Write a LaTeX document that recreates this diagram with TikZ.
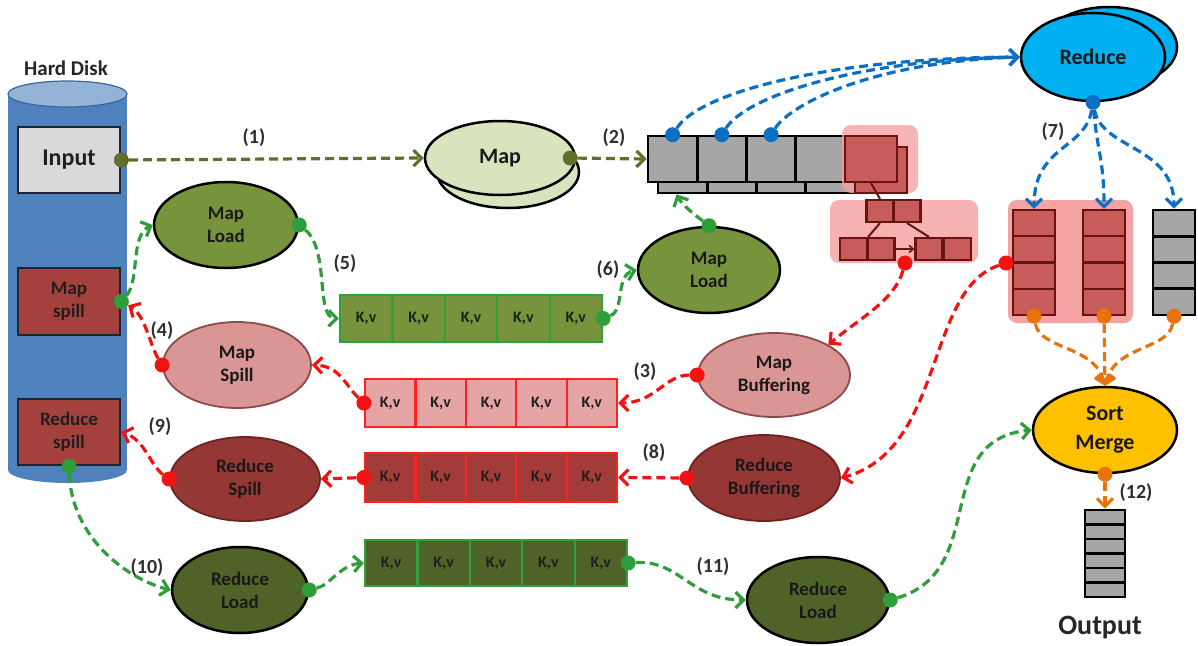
\documentclass[tikz,border=0pt]{standalone}
\usepackage{fontspec}
\setmainfont{Carlito}
\usetikzlibrary{shapes.geometric,arrows.meta}

\definecolor{diskbody}{HTML}{4F81BD}
\definecolor{disktop}{HTML}{95B3D7}
\definecolor{diskedge}{HTML}{3A679E}
\definecolor{boxedge}{HTML}{1C2533}
\definecolor{inputgray}{HTML}{D9D9D9}
\definecolor{spillred}{HTML}{A5413D}
\definecolor{maplight}{HTML}{D7E4BD}
\definecolor{olivefill}{HTML}{77933C}
\definecolor{darkolive}{HTML}{4F6228}
\definecolor{pinkfill}{HTML}{D99694}
\definecolor{pinkedge}{HTML}{8C4A4A}
\definecolor{maroonfill}{HTML}{953735}
\definecolor{maroonedge}{HTML}{6E2323}
\definecolor{cyanfill}{HTML}{00B0F0}
\definecolor{goldfill}{HTML}{FFC000}
\definecolor{cellgray}{HTML}{A6A6A6}
\definecolor{cellred}{HTML}{C0504D}
\definecolor{celledge}{HTML}{6A1212}
\definecolor{glow}{HTML}{F4A3A3}
\definecolor{kvgreenedge}{HTML}{2FA23A}
\definecolor{kvpink}{HTML}{E6A5A5}
\definecolor{kvred}{HTML}{A33B38}
\definecolor{kvrededge}{HTML}{FF2020}
\definecolor{lolive}{HTML}{5E7029}
\definecolor{lgreen}{HTML}{2E9E3A}
\definecolor{lblue}{HTML}{0B70C4}
\definecolor{lred}{HTML}{F21212}
\definecolor{lorange}{HTML}{E8720C}

\tikzset{
  ell/.style={ellipse, draw=black, line width=2.5pt, inner sep=0pt, align=center,
    text=black!90, font=\bfseries\fontsize{19}{23}\selectfont},
  bigtext/.style={font=\bfseries\fontsize{22}{29}\selectfont},
  diskbox/.style={rectangle, draw=boxedge, line width=2.8pt, inner sep=0pt, align=center,
    minimum width=102pt, minimum height=66pt, text=black!88,
    font=\bfseries\fontsize{19}{23}\selectfont},
  kv/.style={rectangle, inner sep=0pt, line width=2.2pt, text=black!88,
    font=\bfseries\fontsize{16}{18}\selectfont},
  slot/.style={rectangle, inner sep=0pt, line width=2.6pt, draw=black, fill=cellgray},
  redslot/.style={rectangle, inner sep=0pt, line width=2.2pt, draw=celledge, fill=cellred!85!glow},
  blob/.style={circle, fill=#1, inner sep=0pt, minimum size=15pt},
  flow/.style={draw=#1, line width=3.2pt, dash pattern=on 9pt off 5pt,
    -{Straight Barb[length=8pt,width=16pt]}},
  num/.style={font=\bfseries\fontsize{20}{23}\selectfont, text=black!82},
  glowbox/.style={fill=glow, rounded corners=9pt},
}

\begin{document}
\begin{tikzpicture}[x=1pt,y=-1pt]
\useasboundingbox (0,0) rectangle (1198,645);

% ---------- hard disk ----------
\fill[diskbody] (67.5,470) ellipse [x radius=59.5, y radius=13];
\fill[diskbody] (8,94) rectangle (127,470);
\filldraw[fill=disktop, draw=diskedge, line width=1.2pt] (67.5,94) ellipse [x radius=59.5, y radius=13];
\node[font=\bfseries\fontsize{21}{24}\selectfont, text=black!85] (hd) at (66,68) {Hard Disk};

\node[diskbox, fill=inputgray, font=\bfseries\fontsize{24}{27}\selectfont] (input) at (69,160) {Input};
\node[diskbox, fill=spillred, minimum height=67pt] (mspill) at (69,301.5) {Map\\spill};
\node[diskbox, fill=spillred] (rspill) at (69,432) {Reduce\\spill};

% ---------- map task ----------
\node[ell, fill=maplight, minimum width=142pt, minimum height=72pt] (mapback) at (508,172) {};
\node[ell, fill=maplight, minimum width=150pt, minimum height=74pt, bigtext] (map) at (500,158) {Map};

% ---------- circular buffer (stacked) ----------
\foreach \i in {1,...,4}
  \node[slot, minimum width=49.25pt, minimum height=46pt] (bb\i) at ({648+(\i-0.5)*49.25+10},170) {};
\foreach \i in {1,...,4}
  \node[slot, minimum width=49.25pt, minimum height=46pt] (b\i) at ({648+(\i-0.5)*49.25},159) {};
\fill[glowbox, fill opacity=0.8] (842,125) rectangle (918,193);
\node[redslot, minimum width=52pt, minimum height=46pt] (bbr) at (881,170) {};
\node[redslot, minimum width=52pt, minimum height=46pt] (br) at (871,159) {};

% ---------- sort tree ----------
\fill[glowbox, fill opacity=0.85] (830,200) rectangle (978,263);
\node[redslot, minimum width=27pt, minimum height=22pt] (t1) at (880,211) {};
\node[redslot, minimum width=27pt, minimum height=22pt] (t2) at (907,211) {};
\node[redslot, minimum width=27pt, minimum height=22pt] (l1) at (853.5,249) {};
\node[redslot, minimum width=27pt, minimum height=22pt] (l2) at (881,249) {};
\node[redslot, minimum width=27pt, minimum height=22pt] (r1) at (929,249) {};
\node[redslot, minimum width=27pt, minimum height=22pt] (r2) at (957.5,249) {};
\draw[celledge, line width=2pt] (br.south) -- (t1.north);
\draw[celledge, line width=2pt] (t1.south) -- (l1.north east);
\draw[celledge, line width=2pt] (t2.south) -- (r1.north);
\draw[celledge, line width=1.6pt, -{Straight Barb[length=4pt,width=7pt]}] (l2.east) -- (r1.west);

% ---------- reduce task ----------
\node[ell, fill=cyanfill, minimum width=136pt, minimum height=80pt] (reduceback) at (1109,47) {};
\node[ell, fill=cyanfill, minimum width=144pt, minimum height=88pt, bigtext] (reduce) at (1093,57) {Reduce};

% ---------- fetched segments ----------
\fill[glowbox] (1008,200) rectangle (1133,323);
\foreach \i in {1,...,4} {
  \node[redslot, minimum width=42pt, minimum height=26.25pt] (lc\i) at (1034,{210+(\i-0.5)*26.25}) {};
  \node[redslot, minimum width=42pt, minimum height=26.25pt] (mc\i) at (1104,{210+(\i-0.5)*26.25}) {};
  \node[slot, minimum width=42pt, minimum height=26.25pt] (rc\i) at (1174,{210+(\i-0.5)*26.25}) {};
}

% ---------- sort merge and output ----------
\node[ell, fill=goldfill, minimum width=144pt, minimum height=86pt, bigtext] (sm) at (1105,430) {Sort\\Merge};
\foreach \i in {1,...,6}
  \node[slot, minimum width=40pt, minimum height=14.5pt] (oc\i) at (1105,{510+(\i-0.5)*14.5}) {};
\node[font=\bfseries\fontsize{28}{30}\selectfont, text=black!85] (outtxt) at (1100,628) {Output};

% ---------- loaders, spillers, buffering ----------
\node[ell, fill=olivefill, minimum width=144pt, minimum height=86pt] (mapload) at (226,225) {Map\\Load};
\node[ell, fill=olivefill, minimum width=142pt, minimum height=86pt] (mapload2) at (709,270) {Map\\Load};
\node[ell, fill=pinkfill, draw=pinkedge, line width=1.8pt, minimum width=148pt, minimum height=86pt] (mapspill) at (237,365) {Map\\Spill};
\node[ell, fill=pinkfill, draw=pinkedge, line width=1.8pt, minimum width=152pt, minimum height=84pt] (mapbuf) at (774,375) {Map\\Buffering};
\node[ell, fill=maroonfill, draw=maroonedge, line width=1.8pt, minimum width=150pt, minimum height=84pt] (redspill) at (245,479) {Reduce\\Spill};
\node[ell, fill=maroonfill, draw=maroonedge, line width=1.8pt, minimum width=152pt, minimum height=86pt] (redbuf) at (764,478) {Reduce\\Buffering};
\node[ell, fill=darkolive, minimum width=136pt, minimum height=86pt] (redload) at (240,590) {Reduce\\Load};
\node[ell, fill=darkolive, minimum width=142pt, minimum height=86pt] (redload2) at (818,600) {Reduce\\Load};

% ---------- key/value buffers ----------
\foreach \i in {1,...,5} {
  \node[kv, fill=olivefill, draw=kvgreenedge, minimum width=52.4pt, minimum height=47pt] (ga\i) at ({340+(\i-0.5)*52.4},318.5) {K,v};
  \node[kv, fill=kvpink, draw=kvrededge, minimum width=50.4pt, minimum height=48pt] (pb\i) at ({365+(\i-0.5)*50.4},403) {K,v};
  \node[kv, fill=kvred, draw=kvrededge, minimum width=50.4pt, minimum height=49pt] (db\i) at ({365+(\i-0.5)*50.4},477.5) {K,v};
  \node[kv, fill=darkolive, draw=kvgreenedge, minimum width=52.4pt, minimum height=46pt] (gb\i) at ({365+(\i-0.5)*52.4},563) {K,v};
}

% ---------- connection dots ----------
\node[blob=lolive] (d1) at (input.east) {};
\node[blob=lolive] (d2) at ([xshift=-6pt]map.east) {};
\node[blob=lblue] (bd1) at (b1.north) {};
\node[blob=lblue] (bd2) at (b2.north) {};
\node[blob=lblue] (bd3) at (b3.north) {};
\node[blob=lblue] (rd) at (reduce.south) {};
\node[blob=lorange] (od1) at (lc4.south) {};
\node[blob=lorange] (od2) at (mc4.south) {};
\node[blob=lorange] (od3) at (rc4.south) {};
\node[blob=lorange] (smd) at (sm.south) {};
\node[blob=lred] (cd) at (1006,263) {};
\node[blob=lred] (td) at (905,263) {};
\node[blob=lred] (mbd) at (mapbuf.west) {};
\node[blob=lred] (pbd) at (pb1.west) {};
\node[blob=lred] (msd) at (mapspill.west) {};
\node[blob=lred] (rbd) at (redbuf.west) {};
\node[blob=lred] (dbd) at (db1.west) {};
\node[blob=lred] (rsd) at (redspill.west) {};
\node[blob=lgreen] (gd1) at (mspill.east) {};
\node[blob=lgreen] (gd2) at (mapload.east) {};
\node[blob=lgreen] (gd3) at (ga5.east) {};
\node[blob=lgreen] (gd4) at (mapload2.north) {};
\node[blob=lgreen] (gd5) at (rspill.south) {};
\node[blob=lgreen] (gd6) at (redload.east) {};
\node[blob=lgreen] (gd7) at (gb5.east) {};
\node[blob=lgreen] (gd8) at (redload2.east) {};

% ---------- data flow ----------
\draw[flow=lolive] (d1) -- (map.west);
\draw[flow=lolive] (d2) -- (b1.west);

\draw[flow=lblue] (bd1) .. controls (700,92) and (830,58) .. (reduce.west);
\draw[flow=lblue] (bd2) .. controls (745,98) and (850,60) .. (reduce.west);
\draw[flow=lblue] (bd3) .. controls (790,105) and (870,62) .. (reduce.west);

\draw[flow=lblue] (rd) .. controls (1085,150) and (1034,145) .. (lc1.north);
\draw[flow=lblue] (rd) .. controls (1097,150) and (1104,160) .. (mc1.north);
\draw[flow=lblue] (rd) .. controls (1102,150) and (1174,145) .. (rc1.north);

\draw[flow=lorange] (od1) .. controls (1040,350) and (1095,345) .. (sm.north);
\draw[flow=lorange] (od2) -- (sm.north);
\draw[flow=lorange] (od3) .. controls (1168,350) and (1115,345) .. (sm.north);
\draw[flow=lorange] (smd) -- (oc1.north);

\draw[flow=lred] (cd) .. controls (925,290) and (945,450) .. (redbuf.east);
\draw[flow=lred] (td) .. controls (895,300) and (860,318) .. (mapbuf.north east);
\draw[flow=lred] (mbd) .. controls (665,375) and (655,403) .. (pb5.east);
\draw[flow=lred] (pbd) .. controls (345,385) and (340,366) .. (mapspill.east);
\draw[flow=lred] (msd) .. controls (150,345) and (145,315) .. (gd1);
\draw[flow=lred] (rbd) -- (db5.east);
\draw[flow=lred] (dbd) -- (redspill.east);
\draw[flow=lred] (rsd) .. controls (150,465) and (145,440) .. (rspill.east);

\draw[flow=lgreen] (gd1) .. controls (140,280) and (130,235) .. (mapload.west);
\draw[flow=lgreen] (gd2) .. controls (330,250) and (315,318) .. (ga1.west);
\draw[flow=lgreen] (gd3) .. controls (625,310) and (615,275) .. (mapload2.west);
\draw[flow=lgreen] (gd4) .. controls (695,215) and (682,205) .. ([xshift=-6pt]bb1.south);
\draw[flow=lgreen] (gd5) .. controls (72,540) and (130,580) .. (redload.west);
\draw[flow=lgreen] (gd6) .. controls (330,585) and (340,565) .. (gb1.west);
\draw[flow=lgreen] (gd7) .. controls (680,560) and (690,600) .. (redload2.west);
\draw[flow=lgreen] (gd8) .. controls (990,570) and (930,440) .. (sm.west);

% ---------- step numbers ----------
\node[num] (n1) at (254,138) {(1)};
\node[num] (n2) at (614,138) {(2)};
\node[num] (n3) at (645,372) {(3)};
\node[num] (n4) at (162,331) {(4)};
\node[num] (n5) at (345,264) {(5)};
\node[num] (n6) at (608,270) {(6)};
\node[num] (n7) at (1053,132) {(7)};
\node[num] (n8) at (654,453) {(8)};
\node[num] (n9) at (160,427) {(9)};
\node[num] (n10) at (147,568) {(10)};
\node[num] (n11) at (713,567) {(11)};
\node[num] (n12) at (1136,493) {(12)};
\end{tikzpicture}
\end{document}
